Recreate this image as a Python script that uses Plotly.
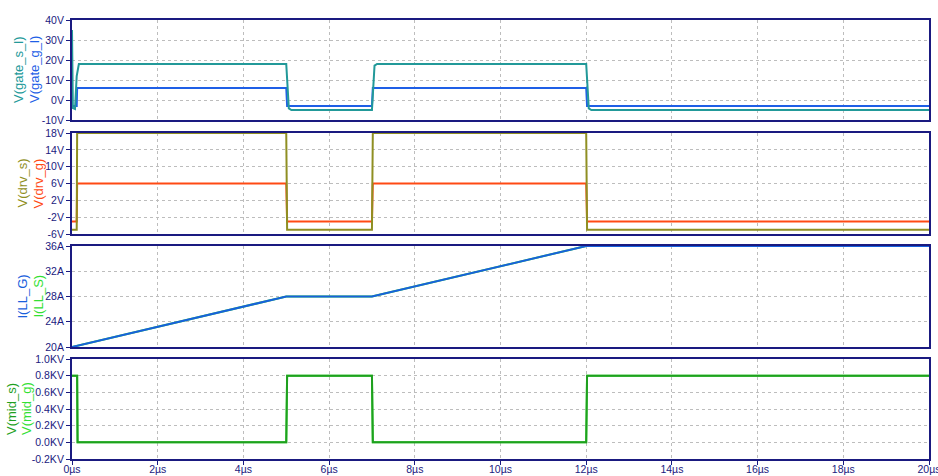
import plotly.graph_objects as go

# ---------------- data ----------------
t_gate_s = [0, 0.02, 0.07, 0.11, 0.16, 5.0, 5.06, 5.12, 7.0, 7.06, 7.12, 12.0, 12.06, 12.12, 20]
v_gate_s = [35, -4, -4.5, 12, 18, 18, -4.2, -5, -5, 17.2, 18, 18, -4.2, -5, -5]
t_gate_g = [0, 0.11, 0.12, 5.0, 5.02, 7.0, 7.02, 12.0, 12.02, 20]
v_gate_g = [-3, -3, 6, 6, -3, -3, 6, 6, -3, -3]

t_drv = [0, 0.11, 0.12, 5.0, 5.02, 7.0, 7.02, 12.0, 12.02, 20]
v_drv_s = [-5, -5, 18, 18, -5, -5, 18, 18, -5, -5]
v_drv_g = [-3, -3, 6, 6, -3, -3, 6, 6, -3, -3]

t_ll = [0, 5, 7, 12, 20]
i_ll_g = [20, 28, 28, 36, 36]
i_ll_s = [20, 28, 28, 36, 36]

t_mid = [0, 0.12, 0.13, 5.0, 5.02, 7.0, 7.02, 12.0, 12.02, 20]
v_mid_s = [0.8, 0.8, 0.0, 0.0, 0.8, 0.8, 0.0, 0.0, 0.8, 0.8]
v_mid_g = [0.8, 0.8, 0.0, 0.0, 0.8, 0.8, 0.0, 0.0, 0.8, 0.8]

x_ticks = [0, 2, 4, 6, 8, 10, 12, 14, 16, 18, 20]
x_ticktext = [f"{v}µs" for v in x_ticks]

y1_ticks = [-10, 0, 10, 20, 30, 40]
y1_text = ["-10V", "0V", "10V", "20V", "30V", "40V"]
y2_ticks = [-6, -2, 2, 6, 10, 14, 18]
y2_text = ["-6V", "-2V", "2V", "6V", "10V", "14V", "18V"]
y3_ticks = [20, 24, 28, 32, 36]
y3_text = ["20A", "24A", "28A", "32A", "36A"]
y4_ticks = [-0.2, 0.0, 0.2, 0.4, 0.6, 0.8, 1.0]
y4_text = ["-0.2KV", "0.0KV", "0.2KV", "0.4KV", "0.6KV", "0.8KV", "1.0KV"]

# ---------------- layout geometry ----------------
W, H = 938, 476
L, R, T, B = 72, 9, 20, 17
PH = H - T - B
PW = W - L - R
panels_px = [(20, 120), (133, 234), (246, 347), (359, 459)]


def dom(top, bot):
    return [(H - B - bot) / PH, (H - B - top) / PH]


def xp(px):
    return (px - L) / PW


def yp(px):
    return (H - B - px) / PH


NAVY = "#1a1a80"
GRID = "#bdbdbd"
FONT = "Liberation Sans"
TSIZE = 10.5

C_TEAL = "#229999"
C_BLUE = "#1f5fe6"
C_OLIVE = "#8f8f22"
C_RED = "#ff4a14"
C_IBLUE = "#1860dc"
C_LGREEN = "#33e033"
C_DGREEN = "#1f9f1f"

fig = go.Figure()


def add(x, y, color, idx, name):
    ax = "" if idx == 1 else str(idx)
    fig.add_trace(go.Scatter(x=x, y=y, mode="lines", name=name,
                             line=dict(color=color, width=2),
                             xaxis="x" + ax, yaxis="y" + ax,
                             hoverinfo="skip", showlegend=False))


add(t_gate_g, v_gate_g, C_BLUE, 1, "V(gate_g_l)")
add(t_gate_s, v_gate_s, C_TEAL, 1, "V(gate_s_l)")
add(t_drv, v_drv_g, C_RED, 2, "V(drv_g)")
add(t_drv, v_drv_s, C_OLIVE, 2, "V(drv_s)")
add(t_ll, i_ll_s, C_LGREEN, 3, "I(LL_S)")
add(t_ll, i_ll_g, C_IBLUE, 3, "I(LL_G)")
add(t_mid, v_mid_g, C_LGREEN, 4, "V(mid_g)")
add(t_mid, v_mid_s, C_DGREEN, 4, "V(mid_s)")

yranges = [[-10, 40], [-6, 18], [20, 36], [-0.2, 1.0]]
yticks = [(y1_ticks, y1_text), (y2_ticks, y2_text), (y3_ticks, y3_text), (y4_ticks, y4_text)]

layout = dict(
    width=W, height=H,
    margin=dict(l=L, r=R, t=T, b=B, autoexpand=False),
    paper_bgcolor="white", plot_bgcolor="white",
    font=dict(family=FONT, size=TSIZE, color=NAVY),
    showlegend=False,
)

for i in range(4):
    n = "" if i == 0 else str(i + 1)
    top, bot = panels_px[i]
    last = (i == 3)
    layout["xaxis" + n] = dict(
        domain=[0, 1], range=[0, 20], anchor="y" + n,
        showline=True, linecolor=NAVY, linewidth=2, mirror=True,
        showgrid=True, gridcolor=GRID, griddash="dot", gridwidth=1,
        tickvals=x_ticks, ticktext=x_ticktext,
        showticklabels=last, ticks="outside" if last else "",
        ticklen=4, tickcolor=NAVY, tickwidth=1,
        ticklabelstandoff=-5, ticklabeloverflow="allow",
        tickfont=dict(family=FONT, size=TSIZE, color=NAVY),
        zeroline=False, fixedrange=True, automargin=False,
        **({} if i == 0 else dict(matches="x")),
    )
    tv, tt = yticks[i]
    layout["yaxis" + n] = dict(
        domain=dom(top, bot), range=yranges[i], anchor="x" + n,
        showline=True, linecolor=NAVY, linewidth=2, mirror=True,
        showgrid=True, gridcolor=GRID, griddash="dot", gridwidth=1,
        tickvals=tv, ticktext=tt, ticks="outside", ticklen=4,
        tickcolor=NAVY, tickwidth=1, ticklabeloverflow="allow",
        tickfont=dict(family=FONT, size=TSIZE, color=NAVY),
        zeroline=False, fixedrange=True, automargin=False,
    )

fig.update_layout(**layout)

labels = [
    (0, "V(gate_s_l)", C_TEAL, 18), (0, "V(gate_g_l)", C_BLUE, 34),
    (1, "V(drv_s)", C_OLIVE, 22), (1, "V(drv_g)", C_RED, 38),
    (2, "I(LL_G)", C_IBLUE, 22), (2, "I(LL_S)", C_LGREEN, 38),
    (3, "V(mid_s)", C_DGREEN, 11), (3, "V(mid_g)", C_LGREEN, 26),
]
for p, txt, col, xc in labels:
    top, bot = panels_px[p]
    fig.add_annotation(text=txt, xref="paper", yref="paper",
                       x=xp(xc), y=yp((top + bot) / 2),
                       xanchor="center", yanchor="middle", textangle=-90,
                       showarrow=False,
                       font=dict(family=FONT, size=13, color=col))

fig.write_html("out.html", config={"displayModeBar": False},
               post_script="document.body.style.margin='0';document.body.style.overflow='hidden';")
